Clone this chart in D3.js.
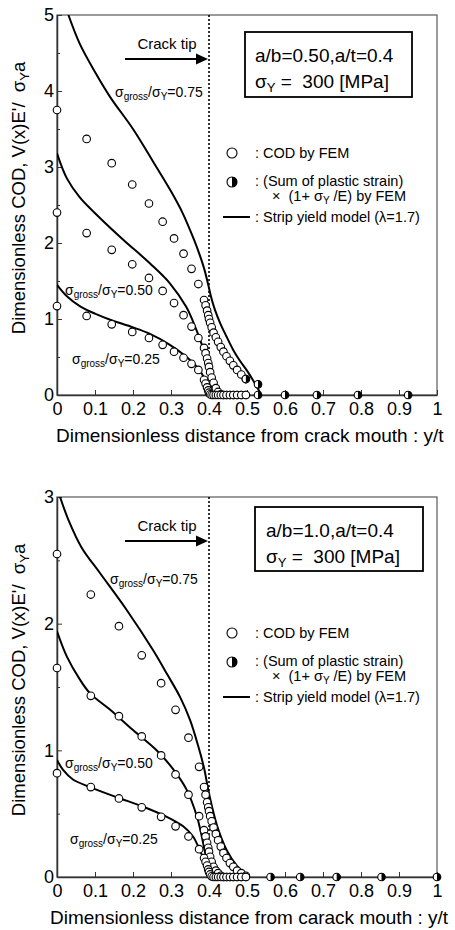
<!DOCTYPE html>
<html>
<head>
<meta charset="utf-8">
<script src="https://cdn.jsdelivr.net/npm/d3@7"></script>
<style>
  body { margin: 0; background: #fff; }
  svg { display: block; }
  text { font-family: "Liberation Sans", Arial, Helvetica, sans-serif; fill: #000; }
</style>
</head>
<body>
<svg id="fig" width="455" height="930"></svg>
<script>
// ---------------- data ----------------
const xTickValues = [0, 0.1, 0.2, 0.3, 0.4, 0.5, 0.6, 0.7, 0.8, 0.9, 1];
const xTickLabels = ["0", "0.1", "0.2", "0.3", "0.4", "0.5", "0.6", "0.7", "0.8", "0.9", "1"];
const yTicksTop = [0, 1, 2, 3, 4, 5];
const yTicksBottom = [0, 1, 2, 3];
const crackTip = 0.4;

// FEM node positions y/t (coarse part before the tip, refined part around it)
const nodeCoarseTop = [0, 0.078, 0.144, 0.198, 0.242, 0.278, 0.308, 0.333, 0.354, 0.372, 0.387];
const nodeCoarseBottom = [0, 0.089, 0.163, 0.223, 0.274, 0.312, 0.346, 0.374, 0.387];
const nodeFine = [0.391, 0.395, 0.398, 0.4, 0.403, 0.407, 0.412, 0.418, 0.424, 0.431, 0.438, 0.446, 0.455, 0.464, 0.474, 0.485, 0.497];

// COD by FEM, a/b = 0.50
const codTop075 = [3.75, 3.37, 3.05, 2.77, 2.52, 2.28, 2.06, 1.86, 1.66, 1.46, 1.25,
                   1.18, 1.11, 1.05, 1.0, 0.95, 0.89, 0.82, 0.76, 0.70, 0.63, 0.57, 0.51, 0.45, 0.39, 0.33, 0.27, 0.21];
const codTop050 = [2.40, 2.13, 1.91, 1.72, 1.54, 1.37, 1.21, 1.05, 0.90, 0.75, 0.62,
                   0.55, 0.48, 0.42, 0.37, 0.30, 0.23, 0.16, 0.09, 0.04, 0.01, 0, 0, 0, 0, 0, 0, 0];
const codTop025 = [1.17, 1.04, 0.93, 0.83, 0.75, 0.66, 0.57, 0.49, 0.41, 0.33, 0.20,
                   0.15, 0.10, 0.06, 0.03, 0.01, 0, 0, 0, 0, 0, 0, 0, 0, 0, 0, 0, 0];

// COD by FEM, a/b = 1.0
const codBottom075 = [2.55, 2.23, 1.98, 1.75, 1.53, 1.32, 1.10, 0.87, 0.71,
                      0.65, 0.59, 0.55, 0.52, 0.48, 0.44, 0.39, 0.34, 0.29, 0.24, 0.19, 0.15, 0.11, 0.08, 0.05, 0.03, 0.01];
const codBottom050 = [1.65, 1.43, 1.27, 1.11, 0.96, 0.81, 0.65, 0.48, 0.37,
                      0.32, 0.27, 0.23, 0.20, 0.16, 0.12, 0.08, 0.05, 0.03, 0.01, 0, 0, 0, 0, 0, 0, 0];
const codBottom025 = [0.82, 0.71, 0.62, 0.55, 0.475, 0.40, 0.32, 0.22, 0.15,
                      0.12, 0.09, 0.06, 0.04, 0.02, 0.005, 0, 0, 0, 0, 0, 0, 0, 0, 0, 0, 0];

// (sum of plastic strain) x (1 + sigmaY/E) by FEM
const plasticTopRaised = [[0.497, 0.21], [0.529, 0.14]];
const plasticTopAxis = [0.529, 0.6, 0.684, 0.792, 0.924];
const plasticBottomRaised = [];
const plasticBottomAxis = [0.562, 0.64, 0.736, 0.854, 1.0];

// strip yield model (lambda = 1.7), a/b = 0.50
const stripTop075 = [[0.03, 5.0], [0.06, 4.62], [0.1, 4.25], [0.14, 3.92], [0.2, 3.5], [0.253, 3.07], [0.3, 2.68],
                     [0.33, 2.4], [0.36, 2.05], [0.375, 1.85], [0.388, 1.65], [0.398, 1.45], [0.405, 1.3], [0.415, 1.13],
                     [0.429, 0.95], [0.445, 0.78], [0.463, 0.6], [0.48, 0.46], [0.5, 0.32], [0.515, 0.2], [0.529, 0.08], [0.536, 0.02]];
const stripTop050 = [[0, 3.18], [0.026, 2.85], [0.06, 2.6], [0.113, 2.33], [0.175, 2.04], [0.245, 1.73], [0.297, 1.47],
                     [0.34, 1.16], [0.365, 0.88], [0.385, 0.6], [0.398, 0.33], [0.406, 0.14], [0.415, 0.03], [0.42, 0]];
const stripTop025 = [[0, 1.45], [0.026, 1.3], [0.06, 1.17], [0.1, 1.07], [0.14, 0.99], [0.2, 0.89], [0.242, 0.81],
                     [0.297, 0.66], [0.341, 0.5], [0.368, 0.37], [0.39, 0.2], [0.398, 0.07], [0.402, 0]];

// strip yield model (lambda = 1.7), a/b = 1.0
const stripBottom075 = [[0.008, 3.0], [0.03, 2.82], [0.065, 2.6], [0.113, 2.4], [0.183, 2.11], [0.253, 1.79], [0.29, 1.6],
                        [0.324, 1.42], [0.35, 1.24], [0.372, 1.03], [0.387, 0.86], [0.398, 0.69], [0.41, 0.53], [0.425, 0.37],
                        [0.447, 0.21], [0.473, 0.09], [0.5, 0.01]];
const stripBottom050 = [[0, 1.94], [0.026, 1.74], [0.06, 1.56], [0.087, 1.45], [0.14, 1.32], [0.2, 1.16], [0.262, 1.0],
                        [0.306, 0.85], [0.341, 0.69], [0.368, 0.48], [0.381, 0.32], [0.394, 0.13], [0.403, 0.03], [0.408, 0]];
const stripBottom025 = [[0, 0.925], [0.016, 0.845], [0.042, 0.77], [0.087, 0.71], [0.157, 0.63], [0.227, 0.555],
                        [0.289, 0.475], [0.332, 0.4], [0.358, 0.32], [0.376, 0.21], [0.39, 0.11], [0.397, 0.03], [0.4, 0]];

// ---------------- drawing ----------------
const svg = d3.select("#fig");
const FONT_TICK = 18;

function zip(xs, ys) { return ys.map((v, i) => [xs[i], v]); }

function stressLabel(g, x, y, value) {
  const t = g.append("text").attr("x", x).attr("y", y).attr("font-size", 14);
  t.append("tspan").text("σ");
  t.append("tspan").attr("font-size", 10).attr("dy", 3).text("gross");
  t.append("tspan").attr("dy", -3).text("/σ");
  t.append("tspan").attr("font-size", 10).attr("dy", 3).text("Y");
  t.append("tspan").attr("dy", -3).text("=" + value);
}

function halfCircle(g, cx, cy, r) {
  const h = g.append("g").attr("transform", `translate(${cx},${cy})`);
  h.append("circle").attr("r", r).attr("fill", "#fff").attr("stroke", "#000").attr("stroke-width", 1.1);
  h.append("path")
    .attr("d", d3.arc()({ innerRadius: 0, outerRadius: r, startAngle: 0, endAngle: Math.PI }))
    .attr("fill", "#000");
}

function drawPanel(p) {
  const g = svg.append("g");
  const left = 57, right = 437;
  const x = d3.scaleLinear().domain([0, 1]).range([left, right]);
  const y = d3.scaleLinear().domain([0, p.yMax]).range([p.bottom, p.top]);

  const clipId = "clip" + p.id;
  g.append("clipPath").attr("id", clipId)
    .append("rect").attr("x", left).attr("y", p.top).attr("width", right - left).attr("height", p.bottom - p.top);

  // frame
  g.append("rect").attr("x", left).attr("y", p.top).attr("width", right - left).attr("height", p.bottom - p.top)
    .attr("fill", "none").attr("stroke", "#666").attr("stroke-width", 1.3);

  // x axis
  const xa = g.append("g").attr("transform", `translate(0,${p.bottom})`)
    .call(d3.axisBottom(x).tickValues(xTickValues).tickFormat((d, i) => xTickLabels[i])
      .tickSizeInner(-5).tickSizeOuter(0).tickPadding(7));
  // y axis, major and minor ticks
  const ya = g.append("g").attr("transform", `translate(${left},0)`)
    .call(d3.axisLeft(y).tickValues(p.yTicks).tickFormat(d3.format("d"))
      .tickSizeInner(-5).tickSizeOuter(0).tickPadding(3));
  const minor = d3.range(0.5, p.yMax, 1);
  g.append("g").attr("transform", `translate(${left},0)`)
    .call(d3.axisLeft(y).tickValues(minor).tickFormat("").tickSizeInner(-3).tickSizeOuter(0))
    .select(".domain").remove();
  [xa, ya].forEach(a => {
    a.select(".domain").attr("stroke", "#333").attr("stroke-width", 1.5);
    a.selectAll("text").attr("font-size", FONT_TICK).attr("font-family", "Liberation Sans, Arial, sans-serif");
  });
  g.selectAll(".tick line").attr("stroke", "#333").attr("stroke-width", 1);

  // crack tip position
  g.append("line").attr("x1", x(crackTip)).attr("x2", x(crackTip)).attr("y1", p.top).attr("y2", p.bottom)
    .attr("stroke", "#000").attr("stroke-width", 1.6).attr("stroke-dasharray", "2,2");

  // strip yield model curves
  const line = d3.line().x(d => x(d[0])).y(d => y(d[1])).curve(d3.curveCatmullRom.alpha(0.5));
  const curves = g.append("g").attr("clip-path", `url(#${clipId})`);
  p.strips.forEach(s => {
    curves.append("path").attr("d", line(s)).attr("fill", "none").attr("stroke", "#000").attr("stroke-width", 2);
  });

  // FEM COD points
  const pts = g.append("g");
  p.cods.forEach(series => {
    pts.selectAll(null).data(series).enter().append("circle")
      .attr("cx", d => x(d[0])).attr("cy", d => y(d[1])).attr("r", 3.8)
      .attr("fill", "#fff").attr("stroke", "#000").attr("stroke-width", 1.1);
  });
  // plastic strain points
  p.plasticRaised.forEach(d => halfCircle(pts, x(d[0]), y(d[1]), 3.8));
  p.plasticAxis.forEach(v => halfCircle(pts, x(v), y(0), 3.8));

  // crack tip arrow
  g.append("text").attr("x", 167).attr("y", p.top + 34).attr("font-size", 15)
    .attr("text-anchor", "middle").text("Crack tip");
  const ay = p.top + 44;
  g.append("line").attr("x1", 125).attr("x2", 198).attr("y1", ay).attr("y2", ay)
    .attr("stroke", "#000").attr("stroke-width", 2);
  g.append("path").attr("d", `M196,${ay - 5.5}L${x(crackTip) - 1},${ay}L196,${ay + 5.5}Z`).attr("fill", "#000");

  // curve labels
  p.labels.forEach(l => stressLabel(g, l.x, l.y, l.text));

  // condition box
  g.append("rect").attr("x", p.box.x).attr("y", p.box.y).attr("width", p.box.w).attr("height", p.box.h)
    .attr("fill", "#fff").attr("stroke", "#000").attr("stroke-width", 1.8);
  g.append("text").attr("x", p.box.x + p.box.tx).attr("y", p.box.y + 30).attr("font-size", 19).text(p.box.title);
  const sy = g.append("text").attr("x", p.box.x + p.box.tx).attr("y", p.box.y + 56).attr("font-size", 19)
    .attr("style", "white-space:pre");
  sy.append("tspan").text("σ");
  sy.append("tspan").attr("font-size", 13).attr("dy", 4).text("Y");
  sy.append("tspan").attr("dy", -4).text(" =  300 [MPa]");

  // legend
  const ly = p.legendY;
  g.append("circle").attr("cx", 232).attr("cy", ly).attr("r", 5)
    .attr("fill", "#fff").attr("stroke", "#000").attr("stroke-width", 1.1);
  g.append("text").attr("x", 255).attr("y", ly + 5).attr("font-size", 14.5).text(": COD by FEM");
  halfCircle(g, 232, ly + 29, 5);
  g.append("text").attr("x", 255).attr("y", ly + 33).attr("font-size", 14.5).text(": (Sum of plastic strain)");
  const l2 = g.append("text").attr("x", 272).attr("y", ly + 48).attr("font-size", 14.5).attr("style", "white-space:pre");
  l2.append("tspan").text("×  (1+ σ");
  l2.append("tspan").attr("font-size", 10).attr("dy", 3).text("Y");
  l2.append("tspan").attr("dy", -3).text(" /E) by FEM");
  g.append("line").attr("x1", 223).attr("x2", 250).attr("y1", ly + 64).attr("y2", ly + 64)
    .attr("stroke", "#000").attr("stroke-width", 2);
  g.append("text").attr("x", 255).attr("y", ly + 69).attr("font-size", 14.5).text(": Strip yield model (λ=1.7)");

  // axis titles
  const yt = g.append("text").attr("transform", `translate(25,${(p.top + p.bottom) / 2 - 7}) rotate(-90)`)
    .attr("text-anchor", "middle").attr("font-size", 18.5).attr("style", "white-space:pre");
  yt.append("tspan").text("Dimensionless COD, V(x)E'/  σ");
  yt.append("tspan").attr("font-size", 13).attr("dy", 4).text("Y");
  yt.append("tspan").attr("dy", -4).text("a");
  g.append("text").attr("x", p.xTitleX).attr("y", p.bottom + 47).attr("font-size", 19).text(p.xTitle);
}

drawPanel({
  id: "A", top: 15, bottom: 395, yMax: 5, yTicks: yTicksTop,
  strips: [stripTop075, stripTop050, stripTop025],
  cods: [zip(nodeCoarseTop.concat(nodeFine), codTop075),
         zip(nodeCoarseTop.concat(nodeFine), codTop050),
         zip(nodeCoarseTop.concat(nodeFine), codTop025)],
  plasticRaised: plasticTopRaised, plasticAxis: plasticTopAxis,
  labels: [{ x: 115, y: 97, text: "0.75" }, { x: 65, y: 295, text: "0.50" }, { x: 72, y: 364, text: "0.25" }],
  box: { x: 245, y: 32, w: 167, h: 65, tx: 10, title: "a/b=0.50,a/t=0.4" },
  legendY: 153,
  xTitle: "Dimensionless distance from crack mouth : y/t", xTitleX: 56
});

drawPanel({
  id: "B", top: 497, bottom: 877, yMax: 3, yTicks: yTicksBottom,
  strips: [stripBottom075, stripBottom050, stripBottom025],
  cods: [zip(nodeCoarseBottom.concat(nodeFine), codBottom075),
         zip(nodeCoarseBottom.concat(nodeFine), codBottom050),
         zip(nodeCoarseBottom.concat(nodeFine), codBottom025)],
  plasticRaised: plasticBottomRaised, plasticAxis: plasticBottomAxis,
  labels: [{ x: 110, y: 584, text: "0.75" }, { x: 65, y: 768, text: "0.50" }, { x: 70, y: 844, text: "0.25" }],
  box: { x: 255, y: 507, w: 168, h: 64, tx: 11, title: "a/b=1.0,a/t=0.4" },
  legendY: 633,
  xTitle: "Dimensionless distance from carack mouth : y/t", xTitleX: 50
});
</script>
</body>
</html>
